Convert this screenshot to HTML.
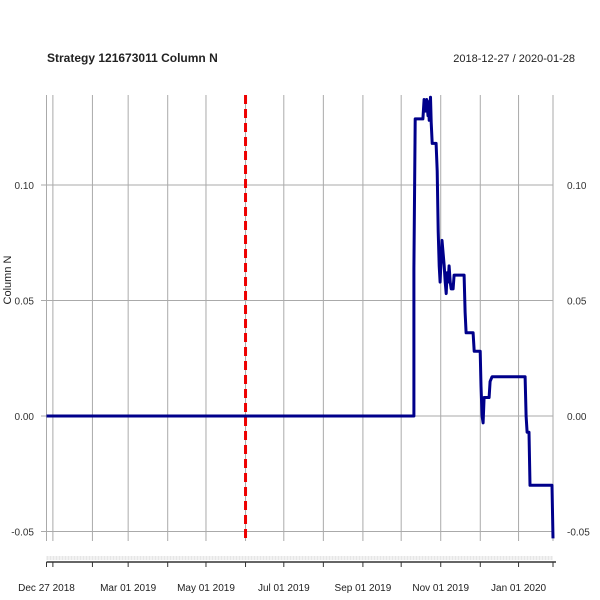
<!DOCTYPE html>
<html><head><meta charset="utf-8">
<style>
body{margin:0;background:#fff;}
svg{display:block;font-family:"Liberation Sans",sans-serif;}
</style></head>
<body>
<svg id="chart" width="600" height="600">
<text x="47" y="62" font-size="12" font-weight="bold" fill="#222">Strategy 121673011 Column N</text>
<text x="575" y="62" font-size="11" fill="#222" text-anchor="end">2018-12-27 / 2020-01-28</text>
<text transform="translate(11,280) rotate(-90)" font-size="11" fill="#222" text-anchor="middle">Column N</text>
<g id="grid"></g>
<g id="marks"></g>
</svg>
<script>
const days = [0,288,288,289,295,296,297,298,299,299.4,300,301,301.5,302.3,305.4,306.2,307,307.8,308.5,309.3,310,310.9,311.7,312.5,313.3,314,314.8,315.6,316.4,317.2,318.7,319.5,327.3,328.1,328.9,334.4,335.2,339.9,340.6,341.4,342.2,343,346.9,347.7,349.3,375.1,375.9,376.7,378.2,379,396.2,397];
const values = [0,0,0.064,0.1286,0.1286,0.137,0.132,0.137,0.130,0.136,0.128,0.138,0.127,0.118,0.118,0.106,0.080,0.065,0.058,0.068,0.076,0.070,0.065,0.058,0.053,0.062,0.058,0.065,0.058,0.055,0.055,0.061,0.061,0.045,0.036,0.036,0.028,0.028,0.013,0.0,-0.003,0.008,0.008,0.015,0.017,0.017,0.0,-0.007,-0.007,-0.03,-0.03,-0.053];
const yTicks = [0.10,0.05,0.00,-0.05];
const yTickLabels = ["0.10","0.05","0.00","-0.05"];
const xTickDays = [0,5,36,64,95,125,156,186,217,248,278,309,340,370,397];
const xLabelDays = [0,64,125,186,248,309,370];
const xLabels = ["Dec 27 2018","Mar 01 2019","May 01 2019","Jul 01 2019","Sep 01 2019","Nov 01 2019","Jan 01 2020"];
const eventDay = 156;

const NS="http://www.w3.org/2000/svg";
const X0=46.5, X1=553, DMAX=397, TOP=95, BOT=541;
const x=d=>X0+(d/DMAX)*(X1-X0);
const y=v=>416-v*2310;
function mk(tag,attrs,parent){const e=document.createElementNS(NS,tag);for(const k in attrs)e.setAttribute(k,attrs[k]);parent.appendChild(e);return e;}
const grid=document.getElementById('grid'), marks=document.getElementById('marks');
xTickDays.forEach(d=>{
  const l=mk('line',{x1:x(d),x2:x(d),y1:TOP,y2:BOT,stroke:'#aaa','stroke-width':1},grid);
  
  
  const t=mk('line',{x1:x(d),x2:x(d),y1:562,y2:567,stroke:'#333','stroke-width':1},grid);
  
  
});
yTicks.forEach((v,i)=>{
  const l=mk('line',{x1:41,x2:X1,y1:y(v),y2:y(v),stroke:'#aaa','stroke-width':1},grid);
  
  
  const a=mk('text',{x:34,y:y(v)+4,'font-size':10,fill:'#333','text-anchor':'end'},grid);
  a.textContent=yTickLabels[i];
  
  
  const b=mk('text',{x:567,y:y(v)+4,'font-size':10,fill:'#333'},grid);
  b.textContent=yTickLabels[i];
  
  
});
const band=mk('line',{x1:X0,x2:X1,y1:558,y2:558,stroke:'#e6e6e6','stroke-width':4,'stroke-dasharray':'2,1'},grid);


const ax=mk('line',{x1:X0,x2:X1+3,y1:562,y2:562,stroke:'#333','stroke-width':1.5},grid);


xLabelDays.forEach((d,i)=>{
  const t=mk('text',{x:x(d),y:591,'font-size':10,fill:'#222','text-anchor':'middle'},grid);
  t.textContent=xLabels[i];
  
  
});
const ev=mk('line',{x1:x(eventDay),x2:x(eventDay),y1:TOP,y2:BOT,stroke:'#e00','stroke-width':3,'stroke-dasharray':'9,5'},marks);


const pts=days.map((d,i)=>x(d).toFixed(1)+','+y(values[i]).toFixed(1)).join(' ');
const pl=mk('polyline',{points:pts,fill:'none',stroke:'#00008b','stroke-width':3,'stroke-linejoin':'round'},marks);


</script>
</body></html>
